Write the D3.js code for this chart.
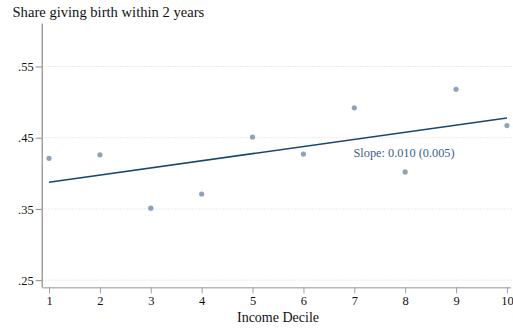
<!DOCTYPE html>
<html>
<head>
<meta charset="utf-8">
<script src="https://cdn.jsdelivr.net/npm/d3@7"></script>
<style>
  html, body { margin: 0; padding: 0; background: #fff; }
  svg { display: block; }
  text { font-family: "Liberation Serif", "DejaVu Serif", serif; }
</style>
</head>
<body>
<svg id="chart" width="513" height="331"></svg>
<script>
// Share giving birth within 2 years, by income decile
const deciles = [1, 2, 3, 4, 5, 6, 7, 8, 9, 10];
const shares = [0.421, 0.426, 0.351, 0.371, 0.451, 0.427, 0.492, 0.402, 0.518, 0.467];
const yTicks = [0.25, 0.35, 0.45, 0.55];
const xTicks = [1, 2, 3, 4, 5, 6, 7, 8, 9, 10];
const slopeSE = 0.005;

const width = 513, height = 331;
const svg = d3.select("#chart");

const x = d3.scaleLinear().domain([0.856, 10.07]).range([41.7, 510.5]);
const y = d3.scaleLinear().domain([0.24, 0.611]).range([287.3, 23]);

// Least-squares fit of share on decile
const mx = d3.mean(deciles), my = d3.mean(shares);
const sxy = d3.sum(deciles, (d, i) => (d - mx) * (shares[i] - my));
const sxx = d3.sum(deciles, d => (d - mx) ** 2);
const slope = sxy / sxx;
const intercept = my - slope * mx;

// Horizontal dotted grid lines
svg.append("g")
  .selectAll("line")
  .data(yTicks)
  .join("line")
  .attr("x1", 42.5).attr("x2", 513)
  .attr("y1", d => y(d)).attr("y2", d => y(d))
  .attr("stroke", "#d4d4d4")
  .attr("stroke-width", 1)
  .attr("stroke-dasharray", "1,2");

// Y axis
const yAxis = svg.append("g")
  .attr("transform", `translate(${x.range()[0]},0)`)
  .call(d3.axisLeft(y).tickValues(yTicks).tickSize(6).tickSizeOuter(0)
    .tickFormat(d => d3.format(".2f")(d).replace(/^0/, "")));
yAxis.select(".domain").attr("stroke", "#8a8a8a").attr("stroke-width", 1.2);
yAxis.selectAll(".tick line").attr("stroke", "#8a8a8a");
yAxis.selectAll(".tick text")
  .attr("x", -8).attr("dy", "0.34em")
  .attr("fill", "#111").attr("font-size", 12.5)
  .attr("font-family", "Liberation Serif, serif");

// X axis
const xAxis = svg.append("g")
  .attr("transform", `translate(0,${y.range()[0]})`)
  .call(d3.axisBottom(x).tickValues(xTicks).tickSize(6).tickSizeOuter(0));
xAxis.select(".domain").attr("stroke", "#b8b8b8").attr("stroke-width", 1.6);
xAxis.selectAll(".tick line").attr("stroke", "#a0a0a0");
xAxis.selectAll(".tick text")
  .attr("y", 9).attr("dy", "0.71em")
  .attr("fill", "#111").attr("font-size", 12.5)
  .attr("font-family", "Liberation Serif, serif");

// Scatter points
svg.append("g")
  .selectAll("circle")
  .data(deciles)
  .join("circle")
  .attr("cx", d => x(d))
  .attr("cy", (d, i) => y(shares[i]))
  .attr("r", 2.6)
  .attr("fill", "#8ca3bd");

// Fitted line
const xs = d3.extent(deciles);
svg.append("line")
  .attr("x1", x(xs[0])).attr("y1", y(intercept + slope * xs[0]))
  .attr("x2", x(xs[1])).attr("y2", y(intercept + slope * xs[1]))
  .attr("stroke", "#1a476f")
  .attr("stroke-width", 1.6);

// Slope annotation
svg.append("text")
  .attr("x", 353.5).attr("y", 156.5)
  .attr("fill", "#3d5f87")
  .attr("font-size", 12.3)
  .text(`Slope: ${d3.format(".3f")(slope)} (${d3.format(".3f")(slopeSE)})`);

// Titles
svg.append("text")
  .attr("x", 12.5).attr("y", 16.7)
  .attr("fill", "#111")
  .attr("font-size", 14.6)
  .text("Share giving birth within 2 years");

svg.append("text")
  .attr("x", x(5.5)).attr("y", 321.5)
  .attr("text-anchor", "middle")
  .attr("fill", "#111")
  .attr("font-size", 14)
  .text("Income Decile");
</script>
</body>
</html>
